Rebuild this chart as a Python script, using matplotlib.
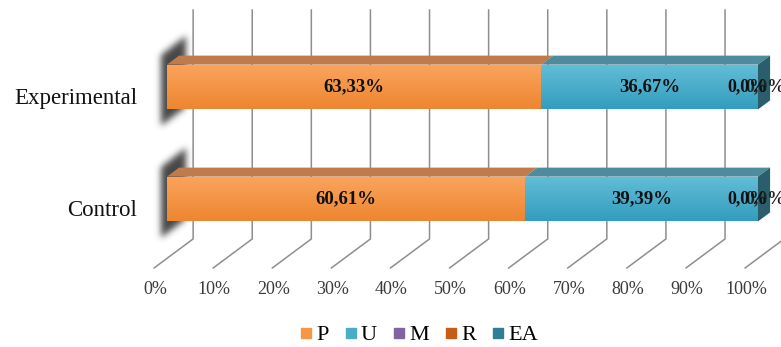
import numpy as np
import matplotlib
matplotlib.use("Agg")
import matplotlib.pyplot as plt
from matplotlib.path import Path
from matplotlib.lines import Line2D
from matplotlib.patches import Polygon

# ---------------- data ----------------
categories = ["Control", "Experimental"]
series_names = ["P", "U", "M", "R", "EA"]
P_vals = [60.61, 63.33]
U_vals = [39.39, 36.67]
M_vals = [0.0, 0.0]
R_vals = [0.0, 0.0]
EA_vals = [0.0, 0.0]
tick_values = [0, 10, 20, 30, 40, 50, 60, 70, 80, 90, 100]
tick_labels = ["0%", "10%", "20%", "30%", "40%", "50%", "60%", "70%", "80%", "90%", "100%"]

# ---------------- style ----------------
legend_colors = ["#F79646", "#4BACC6", "#8064A2", "#C65D17", "#2F7E93"]
front_grad = {"P": ("#FBA45E", "#EC8630"), "U": ("#63BDD7", "#339DBE")}
top_color = {"P": "#C07B4B", "U": "#4E8B9C"}
side_color = {"P": "#A0582A", "U": "#2A5E6C"}
grid_color = "#8E8E8E"
SERIF = ["Liberation Serif", "DejaVu Serif"]

W, H, DPI = 781, 347, 100
PPX = 5.91          # pixels per percent
PCAT = 112.0        # pixels per category step
DX = 39 / PPX       # depth offset in % per depth unit
DY = 29 / PCAT      # depth offset in category units per depth unit
D_FRONT, D_BACK = 0.33, 0.64
FLOOR = -0.53
WALL_TOP = 1.514
HALF_H = 0.2

def proj(p, y, d):
    return p + (d - D_FRONT) * DX, y + (d - D_FRONT) * DY

fig = plt.figure(figsize=(W / DPI, H / DPI), dpi=DPI)
ax = fig.add_axes([0, 0, 1, 1])
XL = (-167 / PPX, (W - 167) / PPX)
YL = ((199 - H) / PCAT, 199 / PCAT)
ax.axis("off")

# ---------------- gridlines (back wall + floor) ----------------
for t, lab in zip(tick_values, tick_labels):
    xb, yb = proj(t, FLOOR, 1.0)
    xt, yt = proj(t, WALL_TOP, 1.0)
    xf, yf = proj(t, FLOOR, 0.0)
    ax.plot([xf, xb, xt], [yf, yb, yt], color=grid_color, lw=1.1, zorder=1,
            solid_joinstyle="miter")
    ax.annotate(lab, (xf, yf), xytext=(1, -22),
                textcoords="offset pixels", ha="center", va="center",
                fontsize=13, family=SERIF, color="#3A3A3A")

# ---------------- shadows ----------------
def blur1d(a, sigma, axis):
    r = int(3 * sigma)
    k = np.exp(-0.5 * (np.arange(-r, r + 1) / sigma) ** 2)
    k /= k.sum()
    return np.apply_along_axis(lambda v: np.convolve(v, k, mode="same"), axis, a)

for ci, cat in enumerate(categories):
    cy_px = 199 - ci * PCAT
    top_px = cy_px - HALF_H * PCAT
    bot_px = cy_px + HALF_H * PCAT
    poly_px = np.array([[161, top_px - 9], [186, top_px - 28],
                        [186, bot_px - 2], [161, bot_px + 17]])
    x0, x1 = 140, 200
    y0, y1 = top_px - 50, bot_px + 45
    xs = np.arange(x0, x1) + 0.5
    ys = np.arange(y0, y1) + 0.5
    gx, gy = np.meshgrid(xs, ys)
    mask = Path(poly_px).contains_points(np.c_[gx.ravel(), gy.ravel()]).reshape(gx.shape).astype(float)
    mask = blur1d(blur1d(mask, 3.3, 0), 3.3, 1)
    rgba = np.zeros(mask.shape + (4,))
    rgba[..., :3] = 0.28
    rgba[..., 3] = np.clip(1.0 * mask, 0, 1)
    ext = ((x0 - 167) / PPX, (x1 - 167) / PPX, (199 - y1) / PCAT, (199 - y0) / PCAT)
    ax.imshow(rgba, extent=ext, origin="upper", aspect="auto", zorder=1.5,
              interpolation="bilinear")

# ---------------- bars ----------------
stack = [("P", P_vals), ("U", U_vals), ("M", M_vals), ("R", R_vals), ("EA", EA_vals)]
for ci, cat in enumerate(categories):
    y = ci
    left = 0.0
    segs = []
    for name, vals in stack:
        segs.append((name, left, vals[ci]))
        left += vals[ci]
    total = left
    depth = D_BACK - D_FRONT
    ddx, ddy = depth * DX, depth * DY
    for name, l, w in segs:
        if w <= 0:
            continue
        bar = ax.barh(y, w, left=l, height=2 * HALF_H, color=front_grad[name][1],
                      lw=0, zorder=3)[0]
        c0 = np.array(matplotlib.colors.to_rgb(front_grad[name][0]))
        c1 = np.array(matplotlib.colors.to_rgb(front_grad[name][1]))
        tt = np.linspace(0, 1, 64)[:, None]
        grad = (c0 * (1 - tt) + c1 * tt)[:, None, :]
        im = ax.imshow(grad, extent=(l, l + w, y - HALF_H, y + HALF_H), origin="upper",
                       aspect="auto", zorder=3.1, interpolation="bilinear")
        im.set_clip_path(bar)
        top = Polygon([(l, y + HALF_H), (l + w, y + HALF_H),
                       (l + w + ddx, y + HALF_H + ddy), (l + ddx, y + HALF_H + ddy)],
                      closed=True, fc=top_color[name], ec="none", zorder=3)
        ax.add_patch(top)
        ax.text(l + w / 2, y, f"{w:.2f}".replace(".", ",") + "%", ha="center",
                va="center", fontsize=13.5, fontweight="bold", family=SERIF,
                color="#111111", zorder=6)
    last = [s for s in segs if s[2] > 0][-1][0]
    side = Polygon([(total, y - HALF_H), (total, y + HALF_H),
                    (total + ddx, y + HALF_H + ddy), (total + ddx, y - HALF_H + ddy)],
                   closed=True, fc=side_color[last], ec="none", zorder=3)
    ax.add_patch(side)
    # zero-value labels (M, R, EA) overlap at the bar end
    zero_vals = [v for name, l, v in segs if v <= 0]
    for k, off in enumerate((-10, 8)[:len(zero_vals)]):
        ax.annotate(f"{zero_vals[k]:.1f}".replace(".", ",") + "%", (total, y),
                    xytext=(off, 0), textcoords="offset pixels",
                    ha="center", va="center", fontsize=13, fontweight="bold",
                    family=SERIF, color="#111111" if k == 0 else "#222222",
                    zorder=6 - k * 0.1, annotation_clip=False)
    fx, fy = proj(0, y, 0.0)
    ax.annotate(cat, (fx, fy), xytext=(-17, -7.5), textcoords="offset pixels",
                ha="right", va="baseline", fontsize=16.5, family=SERIF, color="#111111")

ax.set_xlim(*XL)
ax.set_ylim(*YL)

# ---------------- legend ----------------
handles = [Line2D([], [], marker="s", ls="none", markersize=6.5, color=c, mec=c)
           for c in legend_colors]
fig.legend(handles, series_names, loc="center", bbox_to_anchor=(419.5 / W, 1 - 335 / H),
           ncol=5, frameon=False, handlelength=0.5, handletextpad=0.2,
           columnspacing=0.75, prop={"family": SERIF, "size": 16})

fig.savefig("out.png", dpi=DPI)
